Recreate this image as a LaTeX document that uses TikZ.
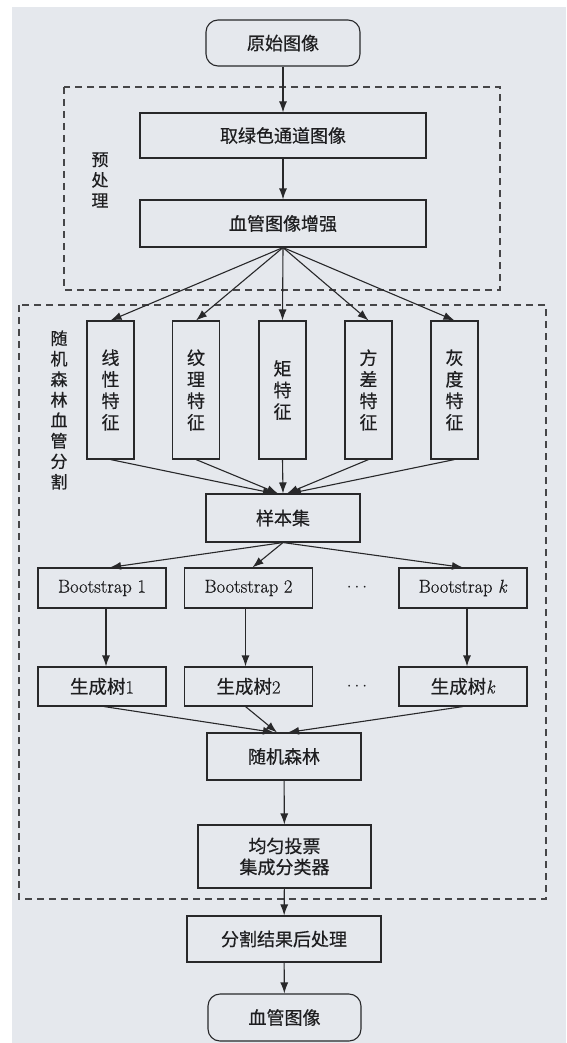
\documentclass[tikz,border=0pt]{standalone}
\usepackage{fontspec}
\newfontfamily\cjk[FakeBold=0.5]{Noto Sans CJK SC}
\newfontfamily\latf[FakeBold=0.6]{Latin Modern Roman}
\usetikzlibrary{arrows.meta,calc}
\definecolor{paper}{RGB}{229,232,237}
\definecolor{linec}{RGB}{40,40,42}
\definecolor{txt}{RGB}{30,30,32}
\definecolor{dashc}{RGB}{70,70,72}
\begin{document}
\begin{tikzpicture}[x=1pt,y=-1pt,
  box/.style={draw=linec, line width=1.1pt, inner sep=0pt, text=txt, align=center,
    font=\cjk\fontsize{18}{21}\selectfont},
  term/.style={box, rounded corners=12pt},
  feat/.style={box, minimum width=47pt, minimum height=138pt, font=\cjk\fontsize{18}{21.5}\selectfont},
  lat/.style={box, minimum width=128pt, font=\latf\fontsize{18.5}{21}\selectfont},
  side/.style={text=txt, align=center, inner sep=0pt, font=\cjk\fontsize{17}{20.5}\selectfont},
  grp/.style={draw=dashc, line width=1.1pt, dash pattern=on 7pt off 5pt},
  arr/.style={draw=linec, line width=1.1pt, -{Latex[length=11pt,width=8pt]}},
  dots/.style={text=txt, inner sep=0pt, font=\latf\fontsize{18}{21}\selectfont}]
\useasboundingbox (0,0) rectangle (566,1043);
\fill[white] (0,0) rectangle (566,1043);
\fill[paper] (12,7) rectangle (566,1043);

% group frames
\draw[grp] (64,87) rectangle (500,290);
\draw[grp] (19,305) rectangle (546,899);
\node[side] (pre) at (100,180) {预\\处\\理};
\node[side] (rfs) at (59,410) {随\\机\\森\\林\\血\\管\\分\\割};

% nodes
\node[term, minimum width=154pt, minimum height=46pt] (orig) at (283,43) {原始图像};
\node[box, minimum width=286pt, minimum height=45pt] (green) at (283,135.5) {取绿色通道图像};
\node[box, minimum width=286pt, minimum height=47pt] (enh) at (283,223.5) {血管图像增强};

\node[feat] (f1) at (110.5,390) {线\\性\\特\\征};
\node[feat] (f2) at (196,390) {纹\\理\\特\\征};
\node[feat] (f3) at (282.5,390) {矩\\特\\征};
\node[feat] (f4) at (368.5,390) {方\\差\\特\\征};
\node[feat] (f5) at (454.5,390) {灰\\度\\特\\征};

\node[box, minimum width=154pt, minimum height=48pt] (sample) at (283,518) {样本集};

\node[lat, minimum height=40pt] (b1) at (102,588) {Bootstrap 1};
\node[lat, minimum height=40pt] (b2) at (248.5,588) {Bootstrap 2};
\node[lat, minimum height=40pt] (bk) at (463,588) {Bootstrap \textit{k}};
\node[dots] (d1) at (357,588) {$\cdots$};

\node[lat, minimum height=39pt] (t1) at (102,686.5) {{\cjk 生成树}1};
\node[lat, minimum height=39pt] (t2) at (248.5,686.5) {{\cjk 生成树}2};
\node[lat, minimum height=39pt] (tk) at (463,686.5) {{\cjk 生成树}\textit{k}};
\node[dots] (d2) at (357,686.5) {$\cdots$};

\node[box, minimum width=154pt, minimum height=47pt] (rf) at (284,756.5) {随机森林};
\node[box, minimum width=173pt, minimum height=63pt, font=\cjk\fontsize{18}{21}\selectfont] (vote) at (284.5,856.5) {均匀投票\\集成分类器};
\node[box, minimum width=194pt, minimum height=46pt] (post) at (284,939) {分割结果后处理};
\node[term, minimum width=153pt, minimum height=47pt] (out) at (284.5,1017.5) {血管图像};

% connectors
\draw[arr] (orig) -- (green);
\draw[arr] (green) -- (enh);
\foreach \f in {f1,f2,f3,f4,f5}
  \draw[arr] (enh.south) -- (\f.north);
\draw[arr] (f1.south) -- ($(sample.north)+(-9,0)$);
\draw[arr] (f2.south) -- ($(sample.north)+(-5,0)$);
\draw[arr] (f3.south) -- (sample.north);
\draw[arr] (f4.south) -- ($(sample.north)+(4,0)$);
\draw[arr] (f5.south) -- ($(sample.north)+(7,0)$);
\draw[arr] (sample.south) -- ($(b1.north)+(8,0)$);
\draw[arr] (sample.south) -- ($(b2.north)+(4,0)$);
\draw[arr] (sample.south) -- (bk.north);
\draw[arr] ($(b1.south)+(4,0)$) -- ($(t1.north)+(4,0)$);
\draw[arr] ($(b2.south)+(-3,0)$) -- ($(t2.north)+(-3,0)$);
\draw[arr] ($(bk.south)+(4,0)$) -- ($(tk.north)+(4,0)$);
\draw[arr] ($(t1.south)+(2,0)$) -- ($(rf.north)+(-10,0)$);
\draw[arr] ($(t2.south)+(-3,0)$) -- ($(rf.north)+(-7,0)$);
\draw[arr] ($(tk.south)+(0,0)$) -- ($(rf.north)+(4,0)$);
\draw[arr] (rf) -- (vote);
\draw[arr] (vote) -- (post);
\draw[arr] (post) -- (out);
\end{tikzpicture}
\end{document}
